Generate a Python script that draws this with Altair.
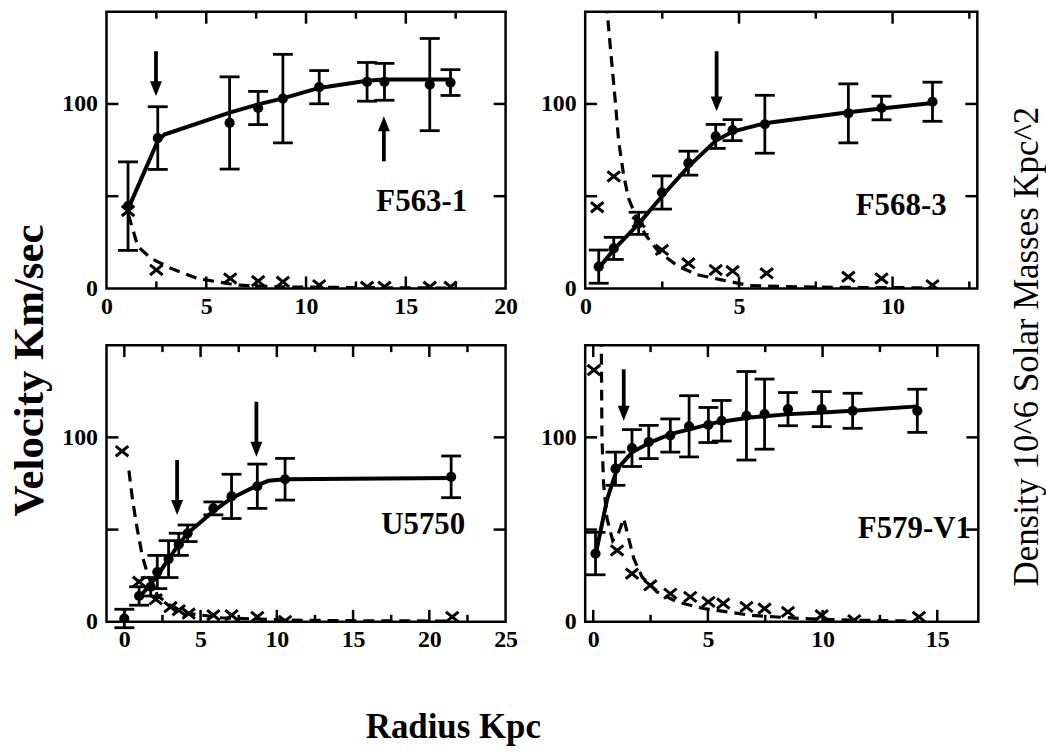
import altair as alt
import pandas as pd

SERIF = "Liberation Serif"
H = 278
YDOM = [0, 150]

# ---------------- F563-1 ----------------
f563_r = [1.08, 2.57, 6.17, 7.6, 8.84, 10.66, 13.06, 13.93, 16.2, 17.24]
f563_v = [44.6, 81.5, 89.7, 97.8, 102.9, 109.1, 112.0, 112.0, 110.5, 111.6]
f563_e = [24, 17, 25, 9, 24, 9, 10.5, 10, 25, 7]
f563_fit_r = [1.08, 2.57, 2.9, 6.17, 7.6, 8.84, 10.66, 13.06, 13.93, 16.2, 17.24]
f563_fit_v = [43, 80, 83.4, 95.3, 99.8, 103, 108.7, 112.6, 113.3, 113.3, 113.3]
f563_rho_r = [1.08, 2.5, 6.2, 7.6, 8.84, 10.66, 13.06, 13.93, 16.2, 17.24]
f563_rho = [42, 10, 5.4, 4, 3.6, 1.8, 0.9, 0.9, 0.9, 0.9]
f563_rhofit_r = [1.1, 1.57, 2.23, 3.22, 4.55, 6.53, 9, 13, 17.3]
f563_rhofit = [40, 22.7, 16.3, 10.9, 5.4, 1.8, 0.8, 0.4, 0.2]
f563_arrow_r = [2.48, 13.9]
f563_arrow_from = [128.6, 68.9]
f563_arrow_to = [104.2, 93.3]

# ---------------- F568-3 ----------------
f568_r = [0.43, 0.92, 1.73, 2.49, 3.35, 4.24, 4.79, 5.84, 8.56, 9.64, 11.3]
f568_v = [11.8, 21.7, 35.3, 52, 67.9, 82.4, 85.8, 89, 94.9, 97.8, 101.2]
f568_e = [9, 6, 6, 9, 6.5, 6.5, 5.7, 15.7, 16, 6.4, 10.6]
f568_fit_r = [0.43, 0.92, 1.73, 2.49, 3.35, 4.24, 4.79, 5.84, 8.56, 9.64, 11.3]
f568_fit_v = [11, 21, 35, 50, 66, 80, 85, 89.5, 95.5, 97.5, 100.5]
f568_rho_r = [0.38, 0.92, 1.73, 2.49, 3.35, 4.24, 4.79, 5.9, 8.56, 9.64, 11.3]
f568_rho = [44, 60.7, 36, 20.9, 13.6, 10, 9.4, 8.2, 6.3, 5.4, 1.8]
f568_rhofit_r = [0.68, 0.82, 0.97, 1.08, 1.24, 1.4, 1.62, 1.95, 2.38, 3.03, 3.68, 4.43, 5.35, 7, 9, 11.3]
f568_rhofit = [155, 128.6, 101.5, 79.7, 61.6, 48.9, 39.9, 29, 19.9, 11.8, 7.3, 4.6, 1.5, 0.8, 0.5, 0.3]
f568_arrow_r = [4.27]
f568_arrow_from = [128.6]
f568_arrow_to = [96]

# ---------------- U5750 ----------------
u5750_r = [0, 0.97, 1.73, 2.16, 2.9, 3.57, 4.15, 5.84, 7.03, 8.72, 10.54, 21.43]
u5750_v = [1.8, 14, 19, 27, 34, 42, 48, 61.5, 68, 73.5, 77.3, 78.6]
u5750_e = [5, 5, 5, 9, 10, 6, 4.5, 3.5, 12, 12, 11.3, 11.3]
u5750_fit_r = [0.97, 2.16, 2.9, 3.57, 4.15, 5.84, 7.03, 8.72, 9.45, 10.54, 21.43]
u5750_fit_v = [13, 25, 34, 42, 48, 60, 67, 74, 76.5, 77.3, 78]
u5750_rho_r = [-0.15, 0.97, 2.06, 3.03, 3.57, 4.22, 5.84, 7.03, 8.72, 10.54, 21.5]
u5750_rho = [92.5, 21.7, 12.2, 8, 6.3, 4.5, 3.6, 3.6, 2.7, 0.5, 2.7]
u5750_rhofit_r = [0.3, 0.54, 0.86, 1.19, 1.6, 2.2, 3.14, 4.22, 6.38, 10.7, 15, 21.5]
u5750_rhofit = [82, 66, 49.7, 35.2, 24, 14, 8.1, 4.5, 2.2, 0.9, 0.6, 0.4]
u5750_arrow_r = [3.46, 8.66]
u5750_arrow_from = [87.7, 119.3]
u5750_arrow_to = [57.9, 89.5]

# ---------------- F579-V1 ----------------
f579_r = [0.1, 0.97, 1.69, 2.42, 3.36, 4.18, 5.02, 5.6, 6.68, 7.47, 8.49, 9.96, 11.31, 14.13]
f579_v = [37, 83, 94.2, 97.5, 101, 106, 106.7, 109, 111.7, 112.6, 115.3, 115.3, 114.4, 114.4]
f579_e = [11.5, 9, 10, 9, 9, 16.6, 9.5, 11, 24, 19, 9, 9.5, 9.5, 11.7]
f579_fit_r = [0.1, 0.61, 1.04, 1.69, 2.49, 3.36, 4.23, 5.38, 6.82, 8.56, 10, 11.31, 14.13]
f579_fit_v = [36, 66.7, 82.9, 91.9, 97.3, 101.8, 104.5, 108.1, 110.8, 112.6, 113.5, 114.4, 116.8]
f579_rho_r = [0.03, 1.04, 1.69, 2.49, 3.36, 4.23, 5.02, 5.67, 6.68, 7.47, 8.49, 9.96, 11.38, 14.2]
f579_rho = [136.5, 38.7, 26.1, 19.8, 15.3, 13.5, 10.8, 9.9, 8.1, 7.2, 5.4, 3.6, 0.9, 2.7]
f579_rhofit_r = [0.35, 0.38, 0.45, 0.6, 0.85, 1.1, 1.33, 1.55, 1.77, 2.13, 2.78, 3.65, 4.81, 6.84, 9.0, 11.2, 14.2]
f579_rhofit = [155, 100, 75, 56, 44, 48, 56, 45, 34.2, 24.3, 16.2, 10.8, 7.2, 3.6, 1.8, 0.9, 0.4]
f579_arrow_r = [1.33]
f579_arrow_from = [136.9]
f579_arrow_to = [109]

CROSS = "M-1,-0.8L1,0.8M-1,0.8L1,-0.8"
HEAD_DOWN = "M-0.8,-2L0.8,-2L0,0Z"
HEAD_UP = "M-0.8,2L0.8,2L0,0Z"


def panel(name, width, xdom, xlabels, major, minor,
          r, v, e, fit_r, fit_v, rho_r, rho, rf_r, rf,
          ar_r, ar_from, ar_to, label_at, xaxis_opts=None, yaxis_opts=None):
    xs = alt.Scale(domain=xdom, nice=False, zero=False)
    ys = alt.Scale(domain=YDOM, nice=False, zero=False)
    xax = dict(values=xlabels, ticks=False, domain=False, grid=False,
               labelFont=SERIF, labelFontWeight="bold", labelFontSize=24,
               labelColor="black", labelPadding=6, labelFlush=False,
               labelOverlap=False, title=None)
    yax = dict(values=[0, 100], ticks=False, domain=False, grid=False,
               labelFont=SERIF, labelFontWeight="bold", labelFontSize=24,
               labelColor="black", labelPadding=9, labelFlush=False,
               labelOverlap=False, title=None)
    if xaxis_opts:
        xax.update(xaxis_opts)
    if yaxis_opts:
        yax.update(yaxis_opts)
    x_axis = alt.Axis(**xax)
    y_axis = alt.Axis(**yax)

    pts = pd.DataFrame({"r": r, "v": v,
                        "lo": [a - b for a, b in zip(v, e)],
                        "hi": [a + b for a, b in zip(v, e)]})
    fit = pd.DataFrame({"r": fit_r, "v": fit_v})
    dens = pd.DataFrame({"r": rho_r, "d": rho})
    dfit = pd.DataFrame({"r": rf_r, "d": rf})
    arrows = pd.DataFrame({
        "r": ar_r, "tail": ar_from, "tip": ar_to,
        "dir": ["down" if t < f else "up" for f, t in zip(ar_from, ar_to)],
    })
    arrows["shaft_end"] = [t + 6 if d == "down" else t - 6
                           for t, d in zip(arrows["tip"], arrows["dir"])]
    lab = pd.DataFrame({"r": [label_at[0]], "v": [label_at[1]], "t": [name]})
    xt_major = pd.DataFrame({"t": major})
    xt_minor = pd.DataFrame({"t": minor})
    yt = pd.DataFrame({"t": [50, 100]})

    X = lambda f: alt.X(f, scale=xs, axis=x_axis)
    Y = lambda f: alt.Y(f, scale=ys, axis=y_axis)

    dashed = alt.Chart(dfit).mark_line(
        color="black", strokeWidth=3.2, strokeDash=[11, 7], clip=True
    ).encode(x=X("r:Q"), y=Y("d:Q"))

    crosses = alt.Chart(dens).mark_point(
        shape=CROSS, size=160, filled=False, strokeWidth=3,
        color="black", opacity=1, clip=True
    ).encode(x=X("r:Q"), y=Y("d:Q"))

    fitline = alt.Chart(fit).mark_line(color="black", strokeWidth=4).encode(
        x=X("r:Q"), y=Y("v:Q"))

    bars = alt.Chart(pts).mark_rule(color="black", strokeWidth=2.8).encode(
        x=X("r:Q"), y=Y("lo:Q"), y2="hi:Q")
    cap_lo = alt.Chart(pts).mark_tick(
        color="black", orient="horizontal", size=20, thickness=2.8, opacity=1
    ).encode(x=X("r:Q"), y=Y("lo:Q"))
    cap_hi = alt.Chart(pts).mark_tick(
        color="black", orient="horizontal", size=20, thickness=2.8, opacity=1
    ).encode(x=X("r:Q"), y=Y("hi:Q"))
    dots = alt.Chart(pts).mark_circle(color="black", size=105, opacity=1).encode(
        x=X("r:Q"), y=Y("v:Q"))

    shafts = alt.Chart(arrows).mark_rule(color="black", strokeWidth=3.8).encode(
        x=X("r:Q"), y=Y("tail:Q"), y2="shaft_end:Q")
    heads_down = alt.Chart(arrows).transform_filter(
        alt.datum.dir == "down"
    ).mark_point(shape=HEAD_DOWN, size=225, filled=True, color="black",
                 opacity=1).encode(x=X("r:Q"), y=Y("tip:Q"))
    heads_up = alt.Chart(arrows).transform_filter(
        alt.datum.dir == "up"
    ).mark_point(shape=HEAD_UP, size=225, filled=True, color="black",
                 opacity=1).encode(x=X("r:Q"), y=Y("tip:Q"))

    label = alt.Chart(lab).mark_text(
        font=SERIF, fontWeight="bold", fontSize=31, color="black",
        align="center", baseline="middle"
    ).encode(x=X("r:Q"), y=Y("v:Q"), text="t:N")

    tick_layers = []
    for df, ln in ((xt_major, 12), (xt_minor, 7)):
        tick_layers.append(alt.Chart(df).mark_rule(color="black", strokeWidth=2.5).encode(
            x=X("t:Q"), y=alt.value(0), y2=alt.value(ln)))
        tick_layers.append(alt.Chart(df).mark_rule(color="black", strokeWidth=2.5).encode(
            x=X("t:Q"), y=alt.value(H), y2=alt.value(H - ln)))
    tick_layers.append(alt.Chart(yt).mark_rule(color="black", strokeWidth=2.5).encode(
        y=Y("t:Q"), x=alt.value(0), x2=alt.value(12)))
    tick_layers.append(alt.Chart(yt).mark_rule(color="black", strokeWidth=2.5).encode(
        y=Y("t:Q"), x=alt.value(width), x2=alt.value(width - 12)))

    return alt.layer(dashed, crosses, fitline, bars, cap_lo, cap_hi, dots,
                     shafts, heads_down, heads_up, label, *tick_layers
                     ).properties(width=width, height=H)


p1 = panel("F563-1", 401, [0, 20], [0, 5, 10, 15, 20], [5, 10, 15], [2.5, 7.5, 12.5, 17.5],
           f563_r, f563_v, f563_e, f563_fit_r, f563_fit_v, f563_rho_r, f563_rho,
           f563_rhofit_r, f563_rhofit, f563_arrow_r, f563_arrow_from, f563_arrow_to,
           (15.8, 47),
           yaxis_opts=dict(title="Velocity Km/sec", titleFont=SERIF, titleFontWeight="bold",
                           titleFontSize=43, titleColor="black", titleAngle=270,
                           titleAlign="center", titleBaseline="middle",
                           titleX=-77, titleY=360))
p2 = panel("F568-3", 394, [-0.01, 12.76], [0, 5, 10], [5, 10], [2.5, 7.5, 12.5],
           f568_r, f568_v, f568_e, f568_fit_r, f568_fit_v, f568_rho_r, f568_rho,
           f568_rhofit_r, f568_rhofit, f568_arrow_r, f568_arrow_from, f568_arrow_to,
           (10.28, 44.4),
           yaxis_opts=dict(title="Density 10^6 Solar Masses Kpc^2", titleFont=SERIF,
                           titleFontWeight="normal", titleFontSize=35, titleColor="black",
                           titleAngle=270, titleAlign="center", titleBaseline="middle",
                           titleX=443, titleY=336))
p3 = panel("U5750", 401, [-1.17, 25], [0, 5, 10, 15, 20, 25], [0, 5, 10, 15, 20],
           [2.5, 7.5, 12.5, 17.5, 22.5],
           u5750_r, u5750_v, u5750_e, u5750_fit_r, u5750_fit_v, u5750_rho_r, u5750_rho,
           u5750_rhofit_r, u5750_rhofit, u5750_arrow_r, u5750_arrow_from, u5750_arrow_to,
           (19.6, 52.4),
           xaxis_opts=dict(title="Radius Kpc", titleFont=SERIF, titleFontWeight="bold",
                           titleFontSize=35, titleColor="black", titleAlign="center",
                           titleBaseline="alphabetic", titleX=348, titleY=116))
p4 = panel("F579-V1", 395, [-0.35, 16.79], [0, 5, 10, 15], [0, 5, 10, 15], [2.5, 7.5, 12.5],
           f579_r, f579_v, f579_e, f579_fit_r, f579_fit_v, f579_rho_r, f579_rho,
           f579_rhofit_r, f579_rhofit, f579_arrow_r, f579_arrow_from, f579_arrow_to,
           (14.0, 50.4))

chart = alt.concat(
    p1, p2, p3, p4, columns=2, spacing={"row": 57, "column": 80}, bounds="flush"
).configure_view(
    stroke="black", strokeWidth=2.5
).properties(
    background="white",
    padding={"left": 7, "top": 7, "right": 0, "bottom": 0},
)

chart.save("out.html", embed_options={"renderer": "svg", "actions": False})
